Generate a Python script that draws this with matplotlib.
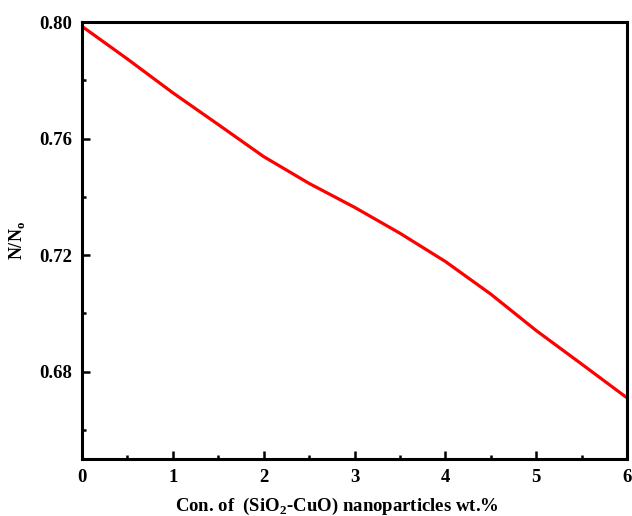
import matplotlib
matplotlib.use("Agg")
import matplotlib.pyplot as plt
from matplotlib.ticker import MultipleLocator

conc = [0, 0.5, 1, 1.5, 2, 2.5, 3, 3.5, 4, 4.5, 5, 5.5, 6]
ratio = [0.7985, 0.7873, 0.7757, 0.7648, 0.7538, 0.7446, 0.7364, 0.7275, 0.7178, 0.7066, 0.6941, 0.6826, 0.6710]

plt.rcParams['font.family'] = ['Liberation Serif', 'DejaVu Serif']
plt.rcParams['font.weight'] = 'bold'
plt.rcParams['mathtext.fontset'] = 'custom'
plt.rcParams['mathtext.rm'] = 'Liberation Serif:bold'
plt.rcParams['mathtext.bf'] = 'Liberation Serif:bold'

fig = plt.figure(figsize=(6.32, 5.16), dpi=100)
ax = fig.add_axes([82/632, 1-459/516, (627-82)/632, (459-22)/516])
ax.plot(conc, ratio, color='#ff0000', lw=2.3)
ax.set_xlim(0, 6)
ax.set_ylim(0.65, 0.80)
ax.xaxis.set_major_locator(MultipleLocator(1))
ax.xaxis.set_minor_locator(MultipleLocator(0.5))
ax.yaxis.set_minor_locator(MultipleLocator(0.02))
ax.set_yticks([0.68, 0.72, 0.76, 0.80])
ax.set_yticklabels(['0.68', '0.72', '0.76', '0.80'])
ax.tick_params(which='major', direction='in', length=6, width=1.8, labelsize=13.5, pad=7)
ax.tick_params(which='minor', direction='in', length=3, width=1.8)
for s in ax.spines.values():
    s.set_linewidth(2.2)
ax.set_xlabel(r'Con. of  (SiO$_2$-CuO) nanoparticles wt.%', fontsize=13.5, fontweight='bold')
ax.xaxis.set_label_coords(0.468, -0.084)
ax.set_ylabel(r'N/N$_\mathrm{o}$', fontsize=13, fontweight='bold', labelpad=9)
fig.savefig('out.png', dpi=100)
